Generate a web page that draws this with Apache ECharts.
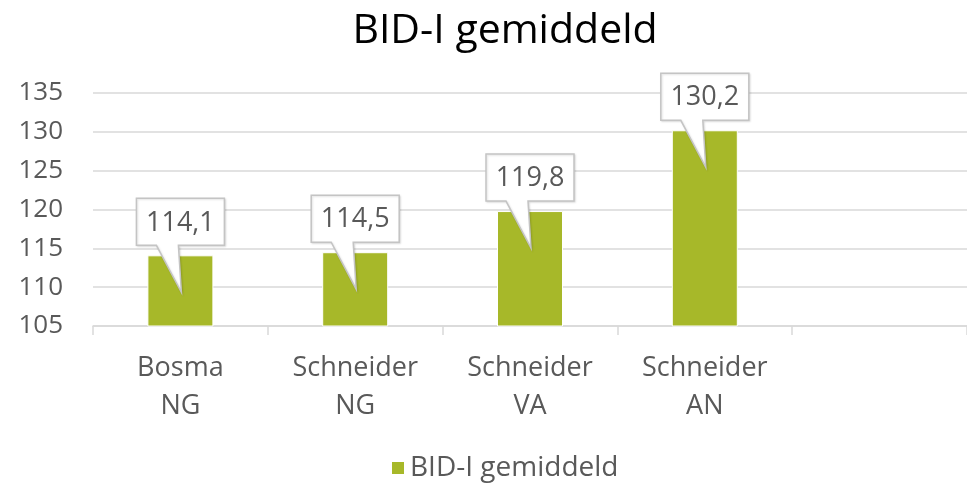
<!DOCTYPE html>
<html><head><meta charset="utf-8">
<script src="https://cdn.jsdelivr.net/npm/echarts@6/dist/echarts.min.js"></script>
<style>html,body{margin:0;padding:0;background:#fff}#c{width:967px;height:486px}</style>
</head><body><div id="c"></div>
<script>
const categories = ['Bosma\nNG', 'Schneider\nNG', 'Schneider\nVA', 'Schneider\nAN', ''];
const values = [114.1, 114.5, 119.8, 130.2, null];
const labels = ['114,1', '114,5', '119,8', '130,2', ''];
const yTicks = { min: 105, max: 135, interval: 5 };
const seriesName = 'BID-I gemiddeld';

const FONT = '"Open Sans", "Noto Sans", sans-serif';
const TXT = '#595959';
const chart = echarts.init(document.getElementById('c'), null, { renderer: 'canvas' });

const calloutData = values.map((v, i) => v == null ? null : [i, v, labels[i]]).filter(Boolean);

chart.setOption({
  animation: false,
  title: {
    text: 'BID-I gemiddeld', left: 500, top: 6, textAlign: 'center',
    textStyle: { fontFamily: FONT, fontSize: 41, fontWeight: 'normal', color: '#000' }
  },
  legend: {
    data: [seriesName], bottom: -1, left: 385, icon: 'rect', itemWidth: 14, itemHeight: 14,
    itemGap: 9,
    textStyle: { fontFamily: FONT, fontSize: 28, color: TXT }
  },
  grid: { left: 93, top: 93, width: 882, bottom: 160, containLabel: false },
  xAxis: {
    type: 'category', data: categories,
    axisLine: { lineStyle: { color: '#d9d9d9', width: 1.5 } },
    axisTick: { show: true, length: 9, lineStyle: { color: '#d9d9d9', width: 1.5 } },
    axisLabel: { fontFamily: FONT, fontSize: 27, color: TXT, lineHeight: 38, margin: 23, interval: 0 }
  },
  yAxis: {
    type: 'value', min: yTicks.min, max: yTicks.max, interval: yTicks.interval,
    axisLine: { show: false }, axisTick: { show: false },
    splitLine: { lineStyle: { color: '#d9d9d9', width: 1.5 } },
    axisLabel: { fontFamily: FONT, fontSize: 26, color: TXT, margin: 30 }
  },
  series: [
    {
      name: seriesName, type: 'bar', data: values, barWidth: 66,
      itemStyle: { color: '#a7b829', borderColor: '#fff', borderWidth: 1 }
    },
    {
      type: 'custom', data: calloutData, z: 10, silent: true,
      renderItem: function (params, api) {
        const p = api.coord([api.value(0), api.value(1)]);
        const cx = p[0], top = p[1];
        const w = 88, h = 47;
        const L = cx - w / 2, R = cx + w / 2, B = top - 10, T = B - h;
        const tip = [cx + 1, top + 37];
        const pts = [[L, T], [R, T], [R, B], [cx - 2, B], tip, [cx - 24, B], [L, B]];
        return {
          type: 'group',
          children: [
            { type: 'polygon', shape: { points: pts },
              style: { fill: '#fff', stroke: '#c4c4c4', lineWidth: 1.5,
                shadowColor: 'rgba(0,0,0,0.12)', shadowBlur: 2, shadowOffsetX: 1, shadowOffsetY: 1 } },
            { type: 'text', x: cx, y: (T + B) / 2 + 1,
              style: { text: api.value(2), fontFamily: FONT, fontSize: 27, fill: TXT,
                align: 'center', verticalAlign: 'middle' } }
          ]
        };
      }
    }
  ]
});
</script></body></html>
